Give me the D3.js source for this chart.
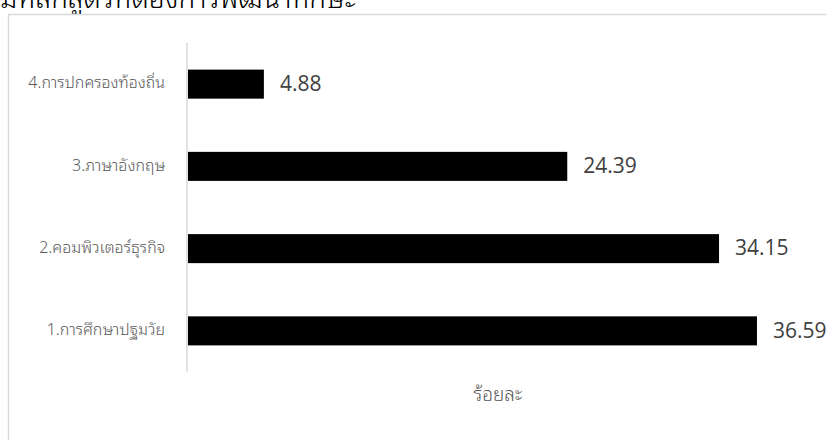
<!DOCTYPE html>
<html><head><meta charset="utf-8">
<script src="https://cdn.jsdelivr.net/npm/d3@7"></script>
<style>body{margin:0;background:#fff;}svg{display:block;}</style>
</head><body>
<svg id="c" width="826" height="440"></svg>
<script>
const categories = ["1.การศึกษาปฐมวัย","2.คอมพิวเตอร์ธุรกิจ","3.ภาษาอังกฤษ","4.การปกครองท้องถิ่น"];
const values = [36.59, 34.15, 24.39, 4.88];
const axisTitle = "ร้อยละ";
const chartTitle = "มหลักสูตรที่ต้องการพัฒนาทักษะ";

const svg = d3.select("#c");
const thai = "'Noto Sans Thai Looped','Loma','Garuda','Tlwg Typo','Norasi','Noto Sans Thai','Noto Sans',sans-serif";

svg.append("text").attr("x",0).attr("y",8).attr("font-size",28).attr("font-weight",300)
  .attr("font-family",thai).attr("fill","#000").text(chartTitle);

svg.append("rect").attr("x",8.5).attr("y",14.5).attr("width",830).attr("height",440)
  .attr("fill","#fff").attr("stroke","#d9d9d9").attr("stroke-width",1.5);

const x = d3.scaleLinear().domain([0,40]).range([188,810]);
const y = d3.scaleBand().domain(categories.slice().reverse()).range([43,372]).paddingInner(0.647).paddingOuter(0.3235);

svg.append("line").attr("x1",187).attr("x2",187).attr("y1",43).attr("y2",372)
  .attr("stroke","#d9d9d9").attr("stroke-width",1.5);

svg.selectAll("rect.bar").data(categories).join("rect").attr("class","bar")
  .attr("x",x(0)).attr("y",d=>y(d)).attr("width",(d,i)=>x(values[i])-x(0))
  .attr("height",y.bandwidth()).attr("fill","#000");

svg.selectAll("text.val").data(categories).join("text").attr("class","val")
  .attr("x",(d,i)=>x(values[i])+16).attr("y",d=>y(d)+y.bandwidth()/2+1)
  .attr("dominant-baseline","middle").attr("font-size",21)
  .attr("font-family","'Open Sans','Liberation Sans',sans-serif").attr("fill","#404040")
  .text((d,i)=>values[i].toFixed(2));

svg.selectAll("text.cat").data(categories).join("text").attr("class","cat")
  .attr("x",165).attr("y",d=>y(d)+y.bandwidth()/2).attr("text-anchor","end")
  .attr("dominant-baseline","middle").attr("font-size",16).attr("font-weight",300)
  .attr("font-family",thai).attr("fill","#595959").text(d=>d);

svg.append("text").attr("x",498).attr("y",396).attr("text-anchor","middle")
  .attr("dominant-baseline","middle").attr("font-size",19).attr("font-weight",300)
  .attr("font-family",thai).attr("fill","#595959").text(axisTitle);
</script>
</body></html>
